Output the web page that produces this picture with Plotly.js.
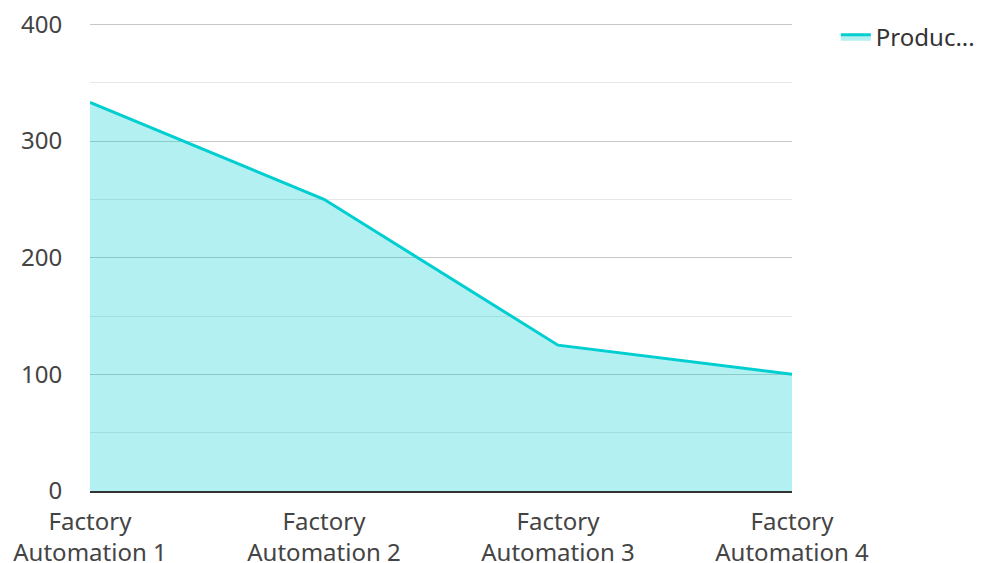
<!DOCTYPE html>
<html>
<head>
<meta charset="utf-8">
<script src="https://cdn.plot.ly/plotly-3.0.1.min.js"></script>
<style>html,body{margin:0;padding:0;background:#fff;}#chart{width:981px;height:563px;}</style>
</head>
<body>
<div id="chart"></div>
<script>
const categories = ["Factory<br>Automation 1", "Factory<br>Automation 2", "Factory<br>Automation 3", "Factory<br>Automation 4"];
const seriesName = "Produc...";
const seriesValues = [333, 250, 125, 100];
const yTickValues = [0, 100, 200, 300, 400];
const yTickLabels = ["0", "100", "200", "300", "400"];

const trace = {
  type: "scatter",
  mode: "lines",
  x: [0, 1, 2, 3],
  y: seriesValues,
  name: seriesName,
  fill: "tozeroy",
  fillcolor: "rgba(0,206,209,0.30)",
  line: {color: "#00CED1", width: 3},
  hoverinfo: "skip"
};

const layout = {
  width: 981,
  height: 563,
  margin: {l: 90, r: 189, t: 22, b: 72},
  paper_bgcolor: "#fff",
  plot_bgcolor: "#fff",
  font: {family: "Noto Sans, Open Sans, sans-serif", size: 24, color: "#444"},
  showlegend: true,
  legend: {xref: "container", yref: "container", x: 0.852, xanchor: "left", y: 0.974, yanchor: "top", font: {size: 24, color: "#333"}, bgcolor: "rgba(0,0,0,0)"},
  xaxis: {
    range: [0, 3],
    tickvals: [0, 1, 2, 3],
    ticktext: categories,
    showgrid: false,
    zeroline: false,
    showline: true,
    linecolor: "#333",
    linewidth: 2,
    ticks: "outside",
    ticklen: 8,
    tickcolor: "rgba(0,0,0,0)",
    fixedrange: true
  },
  yaxis: {
    range: [0, 402],
    tickvals: yTickValues,
    ticktext: yTickLabels,
    showgrid: true,
    gridcolor: "#c8c8c8",
    gridwidth: 1,
    zeroline: false,
    showline: false,
    ticks: "outside",
    ticklen: 22,
    tickcolor: "rgba(0,0,0,0)",
    minor: {dtick: 50, tick0: 0, showgrid: true, gridcolor: "#e6e6e6", gridwidth: 1, ticks: ""},
    fixedrange: true
  }
};

Plotly.newPlot("chart", [trace], layout, {displayModeBar: false, staticPlot: true});
</script>
</body>
</html>
